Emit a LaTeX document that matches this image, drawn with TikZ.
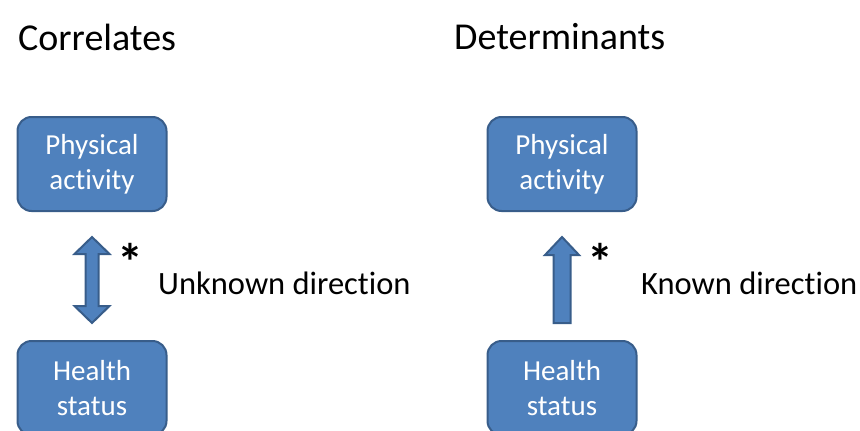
\documentclass[tikz,border=0pt]{standalone}
\usepackage{fontspec}
\setmainfont[Ligatures=NoCommon]{Carlito}
\usetikzlibrary{positioning}
\definecolor{boxblue}{HTML}{4F81BD}
\definecolor{boxline}{HTML}{385D8A}

\begin{document}
\begin{tikzpicture}[x=1pt, y=-1pt, node distance = 128pt,
	box/.style = {rectangle, rounded corners = 14pt, fill = boxblue, draw = boxline, line width = 2pt, text = white, minimum width = 149pt, minimum height = 94pt, align = center, font = \fontsize{29}{35}\selectfont},
	label/.style = {inner sep = 0pt, font = \fontsize{32.5}{38}\selectfont},
	title/.style = {inner sep = 0pt, anchor = west, font = \fontsize{38}{44}\selectfont},
	star/.style = {inner sep = 0pt, font = \bfseries\fontsize{52}{56}\selectfont},
	blockarrow/.style = {fill = boxblue, draw = boxline, line width = 2pt, line join = miter}]
	\useasboundingbox (0,0) rectangle (860,431);
	\clip (0,0) rectangle (860,431);
	\node[title] (corr) at (18,37) {Correlates};
	\node[title] (det) at (454,37) {Determinants};
	\node[box] (pa1) at (92,164) {Physical\\activity};
	\node[box] (hs1) [below = of pa1] {Health\\status};
	\node[box] (pa2) at (562,164) {Physical\\activity};
	\node[box] (hs2) [below = of pa2] {Health\\status};
	% two-headed arrow
	\draw[blockarrow] (92,237) -- (109.5,254) -- (98.5,254) -- (98.5,306) -- (109.5,306) -- (92,323)
		-- (74.5,306) -- (85.5,306) -- (85.5,254) -- (74.5,254) -- cycle;
	% one-headed arrow
	\draw[blockarrow] (562,237) -- (579,255) -- (570.5,255) -- (570.5,323) -- (553.5,323)
		-- (553.5,255) -- (545,255) -- cycle;
	\node[star] (s1) at (130,262) {*};
	\node[star] (s2) at (600,262) {*};
	\node[label, anchor = west] (unk) at (158,283) {Unknown direction};
	\node[label, anchor = west] (kn) at (641,283) {Known direction};
\end{tikzpicture}
\end{document}
